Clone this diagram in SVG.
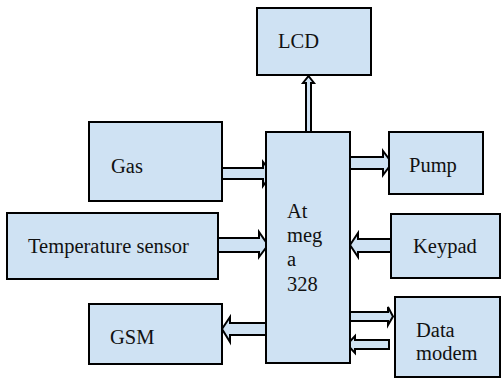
<svg xmlns="http://www.w3.org/2000/svg" width="502" height="381" viewBox="0 0 502 381">
<style>
.box{fill:#cfe2f3;stroke:#000;stroke-width:2}
.arr{fill:#cfe2f3;stroke:#000;stroke-width:2;stroke-linejoin:miter}
.t{font-family:'Liberation Serif','DejaVu Serif',serif;font-size:20.5px;fill:#111}
</style>
<rect width="502" height="381" fill="#fff"/>
<g id="connectors">
<polygon class="arr" points="306,132 306,83 303,83 308.5,76 314,83 311,83 311,132"/>
<polygon class="arr" points="222,168 263,168 263,162 272,173.5 263,186 263,179 222,179"/>
<polygon class="arr" points="218,238 259,238 259,232 268,245 259,257 259,252 218,252"/>
<polygon class="arr" points="266,323 230,323 230,317 222,329 230,342 230,335 266,335"/>
<polygon class="arr" points="350,157 383,157 383,151 392,163 383,175 383,169 350,169"/>
<polygon class="arr" points="391,239 358,239 358,233 350,245 358,257 358,252 391,252"/>
<polygon class="arr" points="350,312 388,312 388,307 393,316.5 388,325 388,321 350,321"/>
<polygon class="arr" points="389,340 355,340 355,336 347,344.5 355,353 355,349 389,349"/>
</g>
<g font-family="Liberation Serif, DejaVu Serif, serif" font-size="20.5" fill="#111">
<g id="lcd"><rect class="box" x="257" y="8" width="114" height="67"/><text class="t" x="278" y="48">LCD</text></g>
<g id="gas"><rect class="box" x="89" y="122" width="133" height="79"/><text class="t" x="111" y="173">Gas</text></g>
<g id="temp"><rect class="box" x="7" y="213" width="211" height="66"/><text class="t" x="28" y="253">Temperature sensor</text></g>
<g id="gsm"><rect class="box" x="89" y="304" width="133" height="60"/><text class="t" x="110" y="344">GSM</text></g>
<g id="atmega"><rect class="box" x="266" y="132" width="84" height="231"/><text class="t" x="287" y="218">At</text><text class="t" x="287" y="242">meg</text><text class="t" x="287" y="266">a</text><text class="t" x="287" y="291">328</text></g>
<g id="pump"><rect class="box" x="389" y="132" width="94" height="62"/><text class="t" x="409" y="172">Pump</text></g>
<g id="keypad"><rect class="box" x="391" y="214" width="109" height="64"/><text class="t" x="413" y="253">Keypad</text></g>
<g id="modem"><rect class="box" x="395" y="297" width="105" height="80"/><text class="t" x="416" y="337">Data</text><text class="t" x="416" y="360">modem</text></g>
</g>
</svg>
